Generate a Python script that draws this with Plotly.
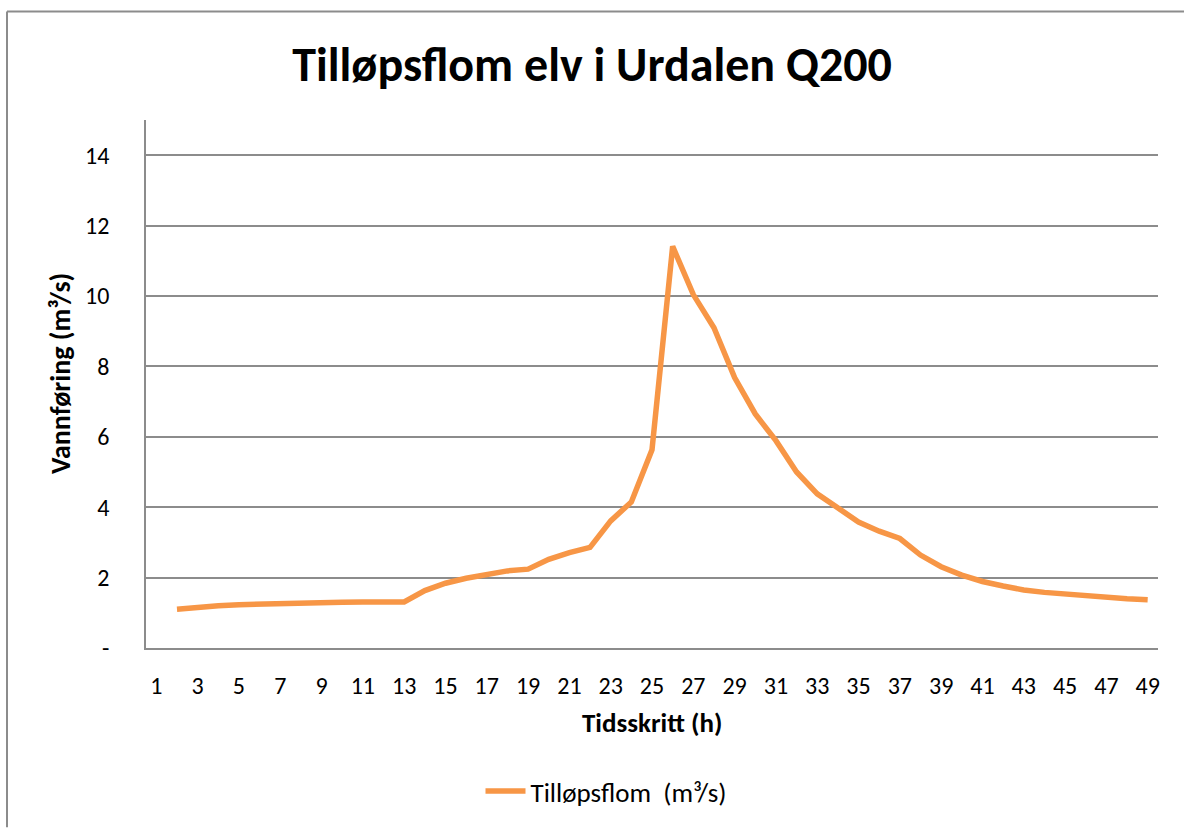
import plotly.graph_objects as go

# Data
timesteps = [str(i) for i in range(1, 50)]
inflow = [None,
          1.10, 1.16, 1.20, 1.23, 1.25, 1.27, 1.28, 1.29, 1.30, 1.31, 1.31, 1.31,
          1.63, 1.84, 1.98, 2.10, 2.19, 2.24, 2.52, 2.71, 2.86, 3.61, 4.15, 5.63,
          11.41, 10.04, 9.10, 7.68, 6.65, 5.89, 5.00, 4.38, 3.96, 3.58, 3.32, 3.11,
          2.64, 2.31, 2.07, 1.89, 1.76, 1.65, 1.58, 1.53, 1.48, 1.43, 1.40, 1.37]
x_ticks = [str(i) for i in range(1, 50, 2)]
y_ticks = [0, 2, 4, 6, 8, 10, 12, 14]
y_ticktext = ["-", "2", "4", "6", "8", "10", "12", "14"]

title = "Tilløpsflom elv i Urdalen Q200"
x_title = "Tidsskritt (h)"
y_title = "Vannføring (m³/s)"
series_name = "Tilløpsflom  (m³/s)"

FONT = "Carlito, Lato, 'Liberation Sans', sans-serif"
W, H = 1184, 828
L, R, T, B = 146, 26, 120, 178
pw, ph = W - L - R, H - T - B

def px_x(p):
    return (p - L) / pw

def px_y(p):
    return (H - B - p) / ph

fig = go.Figure()
fig.add_trace(go.Scatter(
    x=timesteps, y=inflow, mode="lines", name=series_name,
    line=dict(color="#F79646", width=5.5),
    connectgaps=False,
))

grid = "#8c8c8c"
fig.update_layout(
    width=W, height=H,
    margin=dict(l=L, r=R, t=T, b=B),
    paper_bgcolor="white", plot_bgcolor="white",
    font=dict(family=FONT, color="#000000", size=24),
    title=dict(text=f"<b>{title}</b>", x=0.5, xanchor="center",
               y=1 - 64 / H, yanchor="middle", yref="container",
               font=dict(size=48, family=FONT, color="#000")),
    showlegend=True,
    legend=dict(orientation="h", x=px_x(606), xanchor="center",
                y=px_y(794), yanchor="middle",
                font=dict(size=27, family=FONT), itemwidth=40),
    xaxis=dict(type="category", categoryorder="array", categoryarray=timesteps,
               tickmode="array", tickvals=x_ticks, ticktext=x_ticks,
               range=[-0.5, 48.5], showgrid=False, showline=True,
               linecolor=grid, linewidth=1.5, ticks="", ticklabelstandoff=15,
               tickfont=dict(size=24), zeroline=False, fixedrange=True),
    yaxis=dict(range=[0, 15], tickmode="array", tickvals=y_ticks, ticktext=y_ticktext,
               showgrid=True, gridcolor=grid, gridwidth=1.5,
               showline=True, linecolor=grid, linewidth=1.5, ticks="",
               ticklabelstandoff=30, tickfont=dict(size=24), zeroline=False,
               fixedrange=True),
    annotations=[
        dict(text=f"<b>{x_title}</b>", xref="paper", yref="paper",
             x=0.5, y=px_y(725), xanchor="center", yanchor="middle",
             showarrow=False, font=dict(size=27, family=FONT)),
        dict(text=f"<b>{y_title}</b>", xref="paper", yref="paper",
             x=px_x(60), y=px_y(375), xanchor="center", yanchor="middle",
             textangle=-90, showarrow=False, font=dict(size=28, family=FONT)),
    ],
    shapes=[
        dict(type="line", xref="paper", yref="paper", x0=px_x(7), x1=px_x(7),
             y0=px_y(830), y1=px_y(11), line=dict(color="#8c8c8c", width=2)),
        dict(type="line", xref="paper", yref="paper", x0=px_x(7), x1=px_x(1186),
             y0=px_y(11), y1=px_y(11), line=dict(color="#8c8c8c", width=2)),
    ],
)

fig.write_html("out.html", config={"displayModeBar": False},
               post_script="document.body.style.margin='0';document.body.style.overflow='hidden';")
